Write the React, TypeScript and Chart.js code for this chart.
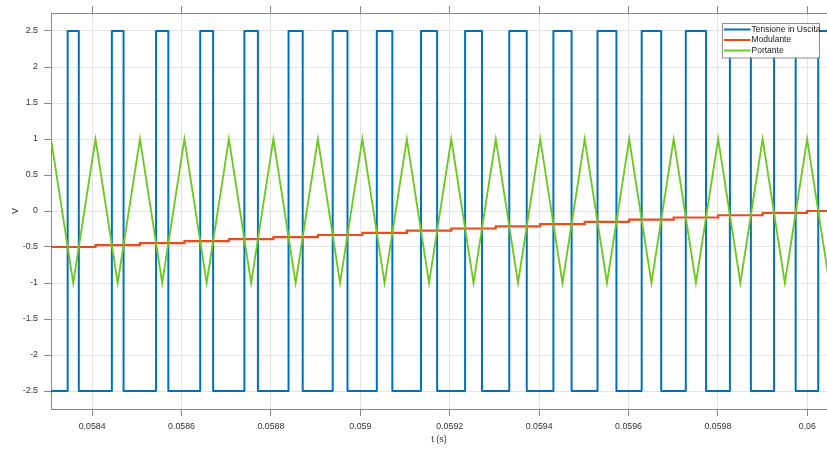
import React, { useEffect, useRef } from "react";
import { Chart, registerables } from "chart.js";

Chart.register(...registerables);

// ---- axis ranges and ticks ----
const X_MIN = 0.058308;
const X_MAX = 0.060044;
const Y_MIN = -2.75;
const Y_MAX = 2.75;

const xTickValues = [0.0584, 0.0586, 0.0588, 0.059, 0.0592, 0.0594, 0.0596, 0.0598, 0.06];
const xTickLabels = ["0.0584", "0.0586", "0.0588", "0.059", "0.0592", "0.0594", "0.0596", "0.0598", "0.06"];
const yTickValues = [-2.5, -2, -1.5, -1, -0.5, 0, 0.5, 1, 1.5, 2, 2.5];
const yTickLabels = ["-2.5", "-2", "-1.5", "-1", "-0.5", "0", "0.5", "1", "1.5", "2", "2.5"];

const xTitle = "t (s)";
const yTitle = "V";

const seriesNames = ["Tensione in Uscita", "Modulante", "Portante"];
const seriesColors = ["#0072BD", "#EE4B1C", "#6CC81E"];

// ---- Portante (carrier triangle): peaks at +1, troughs at -1 ----
const carrierPeakTimes = [
  0.058308, 0.0584075, 0.058507, 0.0586065, 0.058706, 0.0588055, 0.058905, 0.0590045, 0.059104,
  0.0592035, 0.059303, 0.0594025, 0.059502, 0.0596015, 0.059701, 0.0598005, 0.0599, 0.0599995,
];
const carrierTroughTimes = [
  0.05835775, 0.05845725, 0.05855675, 0.05865625, 0.05875575, 0.05885525, 0.05895475, 0.05905425,
  0.05915375, 0.05925325, 0.05935275, 0.05945225, 0.05955175, 0.05965125, 0.05975075, 0.05985025,
  0.05994975, 0.06004925,
];
const carrierPeakValue = 1;
const carrierTroughValue = -1;

// ---- Modulante (sampled staircase, one level per carrier period) ----
const modulantStepTimes = carrierPeakTimes;
const modulantLevels = [
  -0.5, -0.474, -0.447, -0.419, -0.391, -0.362, -0.333, -0.303, -0.273, -0.243, -0.213, -0.182,
  -0.151, -0.12, -0.09, -0.059, -0.028, 0.0,
];

// ---- Tensione in Uscita (output square wave) ----
const outputRiseTimes = [
  0.0583453, 0.0584442, 0.058543, 0.0586418, 0.0587406, 0.0588394, 0.0589382, 0.0590369, 0.0591357,
  0.0592344, 0.0593332, 0.0594319, 0.0595306, 0.0596294, 0.0597281, 0.0598268, 0.0599256, 0.0600244,
];
const outputFallTimes = [
  0.0583702, 0.0584703, 0.0585705, 0.0586707, 0.0587709, 0.0588711, 0.0589713, 0.0590716, 0.0591718,
  0.0592721, 0.0593723, 0.0594726, 0.0595729, 0.0596731, 0.0597734, 0.0598737, 0.0599739,
];
const outputHigh = 2.5;
const outputLow = -2.5;

// ---- build point tables (each point = level that holds from that time on) ----
function buildOutput() {
  const pts: { x: number; y: number }[] = [{ x: X_MIN, y: outputLow }];
  outputRiseTimes.forEach((t, i) => {
    pts.push({ x: t, y: outputHigh });
    if (i < outputFallTimes.length) pts.push({ x: outputFallTimes[i], y: outputLow });
  });
  const last = pts[pts.length - 1].y;
  pts.push({ x: X_MAX, y: last });
  return pts;
}
function buildModulant() {
  const pts = modulantStepTimes.map((t, i) => ({ x: t, y: modulantLevels[i] }));
  pts.push({ x: X_MAX, y: modulantLevels[modulantLevels.length - 1] });
  return pts;
}
function buildCarrier() {
  const pts: { x: number; y: number }[] = [];
  carrierPeakTimes.forEach((t, i) => {
    pts.push({ x: t, y: carrierPeakValue });
    if (i < carrierTroughTimes.length) pts.push({ x: carrierTroughTimes[i], y: carrierTroughValue });
  });
  return pts;
}

const FONT = "'Liberation Sans', Arial, Helvetica, sans-serif";
const AXIS_COLOR = "#888888";
const GRID_COLOR = "#e4e4e4";
const TEXT_COLOR = "#333333";

const legendPlugin = {
  id: "matlabLegend",
  afterDatasetsDraw(chart: any) {
    const { ctx, chartArea } = chart;
    const boxW = 97;
    const boxH = 34.5;
    const right = chartArea.right - 8;
    const top = chartArea.top + 10;
    const left = right - boxW;
    ctx.save();
    ctx.fillStyle = "#ffffff";
    ctx.fillRect(left, top, boxW, boxH);
    ctx.strokeStyle = "#8f8f8f";
    ctx.lineWidth = 1;
    ctx.strokeRect(Math.round(left) + 0.5, Math.round(top) + 0.5, boxW, boxH);
    ctx.font = `8.5px ${FONT}`;
    ctx.textBaseline = "middle";
    ctx.textAlign = "left";
    seriesNames.forEach((name, i) => {
      const y = top + 6.5 + i * 10.5;
      ctx.strokeStyle = seriesColors[i];
      ctx.lineWidth = 2;
      ctx.beginPath();
      ctx.moveTo(left + 2, y);
      ctx.lineTo(left + 28.5, y);
      ctx.stroke();
      ctx.fillStyle = "#1a1a1a";
      ctx.fillText(name, left + 29.5, y);
    });
    ctx.restore();
  },
};

function labelFor(values: number[], labels: string[], v: number) {
  const i = values.findIndex((t) => Math.abs(t - v) < 1e-9);
  return i >= 0 ? labels[i] : "";
}

export default function App() {
  const canvasRef = useRef<HTMLCanvasElement | null>(null);

  useEffect(() => {
    if (!canvasRef.current) return;
    const chart = new Chart(canvasRef.current, {
      type: "line",
      data: {
        datasets: [
          {
            label: seriesNames[0],
            data: buildOutput(),
            borderColor: seriesColors[0],
            backgroundColor: seriesColors[0],
            borderWidth: 2,
            stepped: "before",
            order: 2,
            borderJoinStyle: "round",
          },
          {
            label: seriesNames[1],
            data: buildModulant(),
            borderColor: seriesColors[1],
            backgroundColor: seriesColors[1],
            borderWidth: 2.2,
            stepped: "before",
            order: 1,
          },
          {
            label: seriesNames[2],
            data: buildCarrier(),
            borderColor: seriesColors[2],
            backgroundColor: seriesColors[2],
            borderWidth: 1.8,
            order: 0,
          },
        ],
      },
      options: {
        animation: false,
        responsive: false,
        devicePixelRatio: 1,
        events: [],
        layout: { padding: 0 },
        elements: { point: { radius: 0 }, line: { tension: 0 } },
        plugins: { legend: { display: false }, tooltip: { enabled: false } },
        scales: {
          x: {
            type: "linear",
            position: "bottom",
            min: X_MIN,
            max: X_MAX,
            afterBuildTicks: (s: any) => {
              s.ticks = xTickValues.map((v) => ({ value: v }));
            },
            afterFit: (s: any) => {
              s.height = 41;
            },
            ticks: {
              autoSkip: false,
              maxRotation: 0,
              padding: 5,
              color: TEXT_COLOR,
              font: { family: FONT, size: 8.8 },
              callback: (v: any) => labelFor(xTickValues, xTickLabels, Number(v)),
            },
            grid: { color: GRID_COLOR, tickColor: AXIS_COLOR, tickLength: 7, drawTicks: true },
            border: { color: AXIS_COLOR, width: 1 },
            title: {
              display: true,
              text: xTitle,
              color: TEXT_COLOR,
              font: { family: FONT, size: 9 },
              padding: { top: 0, bottom: 4.6 },
            },
          },
          x2: {
            type: "linear",
            position: "top",
            min: X_MIN,
            max: X_MAX,
            afterBuildTicks: (s: any) => {
              s.ticks = xTickValues.map((v) => ({ value: v }));
            },
            afterFit: (s: any) => {
              s.height = 13;
            },
            ticks: { display: false },
            grid: { drawOnChartArea: false, tickColor: AXIS_COLOR, tickLength: 7, drawTicks: true },
            border: { color: AXIS_COLOR, width: 1 },
          },
          y: {
            type: "linear",
            position: "left",
            min: Y_MIN,
            max: Y_MAX,
            afterBuildTicks: (s: any) => {
              s.ticks = yTickValues.map((v) => ({ value: v }));
            },
            afterFit: (s: any) => {
              s.width = 51;
            },
            ticks: {
              padding: 6,
              color: TEXT_COLOR,
              font: { family: FONT, size: 8.8 },
              callback: (v: any) => labelFor(yTickValues, yTickLabels, Number(v)),
            },
            grid: { color: GRID_COLOR, tickColor: AXIS_COLOR, tickLength: 7, drawTicks: true },
            border: { color: AXIS_COLOR, width: 1 },
            title: {
              display: true,
              text: yTitle,
              color: TEXT_COLOR,
              font: { family: FONT, size: 9 },
              padding: { top: 9.8, bottom: 0 },
            },
          },
        },
      } as any,
      plugins: [legendPlugin],
    });
    return () => chart.destroy();
  }, []);

  return (
    <div
      style={{
        position: "fixed",
        left: 0,
        top: 0,
        width: 827,
        height: 450,
        overflow: "hidden",
        background: "#ffffff",
      }}
    >
      <canvas ref={canvasRef} width={827} height={450} style={{ display: "block" }} />
    </div>
  );
}
